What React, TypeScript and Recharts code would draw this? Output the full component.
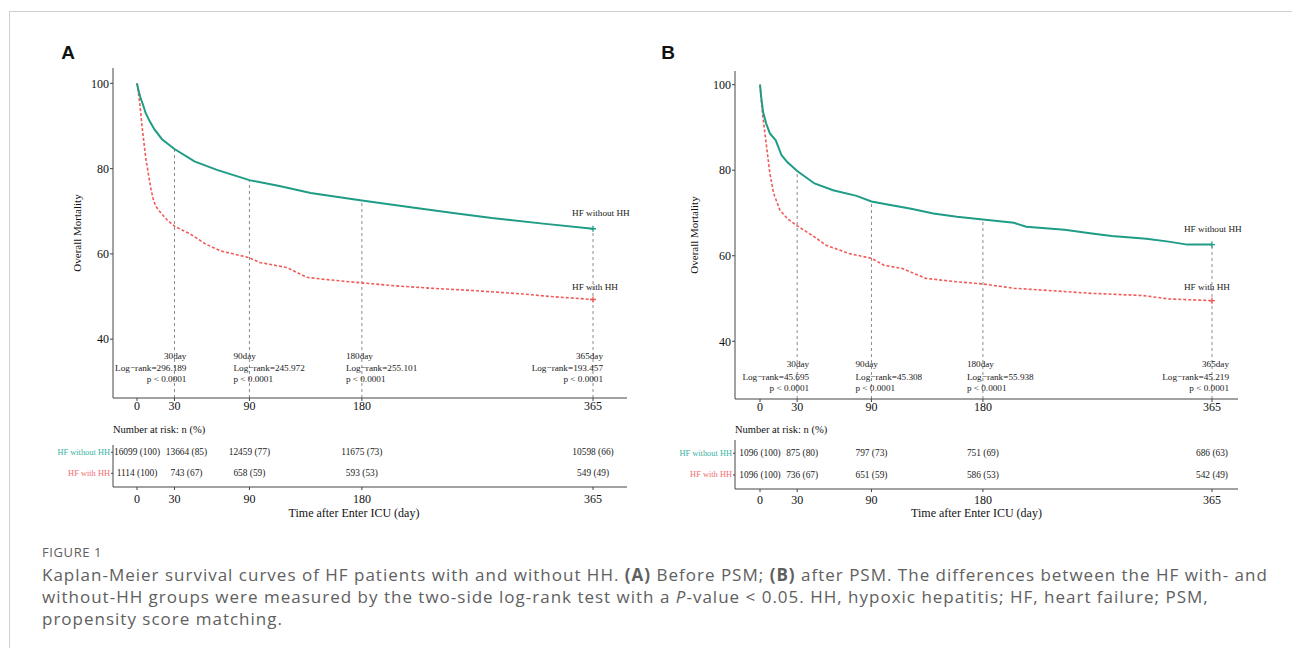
import React from "react"
import {
  LineChart,
  Line,
  XAxis,
  YAxis,
  ReferenceLine,
  ReferenceDot,
  ScatterChart,
  Scatter,
} from "recharts"

const SERIF = '"Liberation Serif", "Times New Roman", serif'
const TEAL = "#1f9c86"
const RED = "#f25a58"
const TEAL_SOFT = "#38b3a3"
const RED_SOFT = "#f26e6e"
const AXIS = "#444"

// Panel A: before PSM (survival %)
const aWithoutDays = [0, 1, 2.5, 5, 7, 10, 14, 20, 30, 46, 64, 90, 114, 139, 180, 222, 253, 284, 325, 365]
const aWithoutSurv = [100, 98.6, 96.9, 94.8, 93.0, 91.2, 89.2, 86.9, 84.6, 81.7, 79.7, 77.3, 75.9, 74.3, 72.5, 70.8, 69.6, 68.4, 67.1, 65.9]
const aWithDays = [0, 1, 2.5, 4, 5.6, 7, 9, 11, 13, 15, 18, 24, 30, 43, 55, 67, 90, 98, 120, 136, 151, 180, 207, 238, 269, 309, 331, 365]
const aWithSurv = [100, 98, 94.6, 90, 86, 82.5, 79, 75.5, 72.8, 71.2, 70, 68, 66.5, 64.6, 62.3, 60.7, 59.1, 58, 56.8, 54.5, 54, 53.2, 52.5, 51.9, 51.4, 50.6, 50, 49.3]

// Panel B: after PSM
const bWithoutDays = [0, 1, 2.5, 5, 8, 12.7, 17.4, 22, 30, 44, 59, 78, 90, 103, 122, 140, 159, 180, 205, 215, 246, 268, 284, 312, 330, 345, 365]
const bWithoutSurv = [100, 97, 93.6, 90.9, 88.6, 87, 83.5, 81.9, 79.8, 76.9, 75.3, 74, 72.7, 72, 71, 69.9, 69.1, 68.5, 67.7, 66.8, 66.1, 65.2, 64.6, 64, 63.3, 62.6, 62.6]
const bWithDays = [0, 2, 5, 8, 11, 16, 22, 30, 44, 53, 72, 90, 100, 115, 134, 159, 180, 205, 237, 268, 309, 330, 365]
const bWithSurv = [100, 93.2, 86.2, 79.2, 74.6, 70.7, 68.7, 67, 64.4, 62.5, 60.5, 59.4, 57.8, 57, 54.7, 53.9, 53.4, 52.4, 51.8, 51.2, 50.7, 49.9, 49.5]

const markDays = [30, 90, 180, 365]
const aLogRank = ["296.189", "245.972", "255.101", "193.457"]
const bLogRank = ["45.695", "45.308", "55.938", "45.219"]
const pText = "p < 0.0001"

const xTicks = [0, 30, 90, 180, 365]
const yTicks = [40, 60, 80, 100]
const groupNames = ["HF without HH", "HF with HH"]

// number at risk tables
const riskDays = [0, 30, 90, 180, 365]
const aRiskWithoutN = [16099, 13664, 12459, 11675, 10598]
const aRiskWithoutPct = [100, 85, 77, 73, 66]
const aRiskWithN = [1114, 743, 658, 593, 549]
const aRiskWithPct = [100, 67, 59, 53, 49]
const bRiskWithoutN = [1096, 875, 797, 751, 686]
const bRiskWithoutPct = [100, 80, 73, 69, 63]
const bRiskWithN = [1096, 736, 651, 586, 542]
const bRiskWithPct = [100, 67, 59, 53, 49]

const captionLines = [
  "Kaplan-Meier survival curves of HF patients with and without HH. ",
  "without-HH groups were measured by the two-side log-rank test with a ",
  "propensity score matching.",
]

type Layout = {
  tag: string
  tagX: number
  boxLeft: number
  boxWidth: number
  plotLeft: number
  plotRight: number
  plotTop: number
  plotBottom: number
  xDomain: [number, number]
  yDomain: [number, number]
  yLabelX: number
  annoDx: number[]
  annoAnchor: ("start" | "end")[]
  annoDy: number[]
  endDx: number
  endDy: number[]
  tableTop: number
  tableBottom: number
  tableDomain: [number, number]
  tableTickMargin: number
  titleShift: number
  riskNudge: number
}

const layoutA: Layout = {
  tag: "A",
  tagX: 68,
  boxLeft: 0,
  boxWidth: 660,
  plotLeft: 113,
  plotRight: 627,
  plotTop: 68,
  plotBottom: 398,
  xDomain: [-19.2, 392.2],
  yDomain: [26.2, 103.6],
  yLabelX: 77,
  annoDx: [12, -16, -16, 10],
  annoAnchor: ["end", "start", "start", "end"],
  annoDy: [-42, -30, -19],
  endDx: -21,
  endDy: [-16, -13],
  tableTop: 445,
  tableBottom: 487,
  tableDomain: [0.348, 2.35],
  tableTickMargin: 4,
  titleShift: -16,
  riskNudge: 12,
}

const layoutB: Layout = {
  tag: "B",
  tagX: 668,
  boxLeft: 640,
  boxWidth: 652,
  plotLeft: 735,
  plotRight: 1238,
  plotTop: 71,
  plotBottom: 399,
  xDomain: [-20.2, 386],
  yDomain: [26.5, 103.2],
  yLabelX: 694,
  annoDx: [12, -16, -16, 17],
  annoAnchor: ["end", "start", "start", "end"],
  annoDy: [-35, -22.5, -11],
  endDx: -28,
  endDy: [-16, -14],
  tableTop: 440,
  tableBottom: 489,
  tableDomain: [0.355, 2.61],
  tableTickMargin: 3,
  titleShift: -10,
  riskNudge: 5,
}

const toPoints = (days: number[], surv: number[]) => days.map((d, i) => ({ day: d, surv: surv[i] }))
const valueAt = (days: number[], surv: number[], d: number) => surv[days.indexOf(d)]

function endMarker(color: string, name: string, count: number, dx: number, dy: number) {
  return (props: any) => {
    const { cx, cy, index } = props
    if (index !== count - 1) return <g key={`e${index}`} />
    return (
      <g key={`e${index}`}>
        <path d={`M${cx - 3},${cy}h6M${cx},${cy - 3}v6`} stroke={color} strokeWidth={1.3} />
        <text x={cx + dx} y={cy + dy} fontSize={9.2} fontFamily={SERIF} fill="#222" dominantBaseline="central">
          {name}
        </text>
      </g>
    )
  }
}

function RowTick(props: any) {
  const { x, y, payload } = props
  const top = payload.value === 2
  return (
    <text x={x} y={y} textAnchor="end" dominantBaseline="central" fontSize={8.4} fontFamily={SERIF} fill={top ? TEAL_SOFT : RED_SOFT}>
      {top ? groupNames[0] : groupNames[1]}
    </text>
  )
}

type PanelProps = {
  L: Layout
  withoutDays: number[]
  withoutSurv: number[]
  withDays: number[]
  withSurv: number[]
  logRank: string[]
  riskWithoutN: number[]
  riskWithoutPct: number[]
  riskWithN: number[]
  riskWithPct: number[]
}

function Panel({ L, withoutDays, withoutSurv, withDays, withSurv, logRank, riskWithoutN, riskWithoutPct, riskWithN, riskWithPct }: PanelProps) {
  const without = toPoints(withoutDays, withoutSurv)
  const withHH = toPoints(withDays, withSurv)
  const rowsWithout = riskDays.map((d, i) => ({ day: d, row: 2, label: `${riskWithoutN[i]} (${riskWithoutPct[i]})` }))
  const rowsWith = riskDays.map((d, i) => ({ day: d, row: 1, label: `${riskWithN[i]} (${riskWithPct[i]})` }))
  const rightMargin = L.boxLeft + L.boxWidth - L.plotRight

  const riskText = (p: any) => (
    <text
      x={p.cx + (p.payload.day === 30 ? L.riskNudge : 0)}
      y={p.cy}
      textAnchor="middle"
      dominantBaseline="central"
      fontSize={9.4}
      fontFamily={SERIF}
      fill="#222"
    >
      {p.payload.label}
    </text>
  )

  const tickStyle = { fontSize: 12, fill: "#111", fontFamily: SERIF }

  return (
    <>
      <div
        style={{
          position: "absolute",
          left: L.tagX - 10,
          top: 42,
          width: 20,
          textAlign: "center",
          font: 'bold 19px "Liberation Sans", Arial, sans-serif',
          color: "#111",
        }}
      >
        {L.tag}
      </div>
      <div style={{ position: "absolute", left: L.boxLeft, top: 0 }}>
        <LineChart
          width={L.boxWidth}
          height={420}
          margin={{ top: L.plotTop, right: rightMargin, bottom: 420 - L.plotBottom - 20, left: 0 }}
        >
          <XAxis
            type="number"
            dataKey="day"
            domain={L.xDomain}
            ticks={xTicks}
            height={20}
            tickSize={3}
            tickMargin={0}
            axisLine={{ stroke: AXIS }}
            tickLine={{ stroke: AXIS }}
            tick={tickStyle}
          />
          <YAxis
            type="number"
            domain={L.yDomain}
            ticks={yTicks}
            width={L.plotLeft - L.boxLeft}
            tickSize={3}
            tickMargin={1}
            axisLine={{ stroke: AXIS }}
            tickLine={{ stroke: AXIS }}
            tick={tickStyle}
            label={{
              value: "Overall Mortality",
              angle: -90,
              position: "insideLeft",
              offset: L.yLabelX - L.boxLeft,
              style: { textAnchor: "middle", fontSize: 11, fontFamily: SERIF, fill: "#111" },
            }}
          />
          {markDays.map((d) => (
            <ReferenceLine
              key={`v${d}`}
              segment={[
                { x: d, y: L.yDomain[0] },
                { x: d, y: valueAt(withoutDays, withoutSurv, d) },
              ]}
              stroke="#8c8c8c"
              strokeDasharray="3 3"
            />
          ))}
          {markDays.map((d, i) => (
            <ReferenceDot
              key={`t${d}`}
              x={d}
              y={L.yDomain[0]}
              r={0}
              ifOverflow="visible"
              shape={(p: any) => (
                <g>
                  {[`${d}day`, `Log\u2212rank=${logRank[i]}`, pText].map((t, k) => (
                    <text
                      key={k}
                      x={p.cx + L.annoDx[i]}
                      y={p.cy + L.annoDy[k]}
                      textAnchor={L.annoAnchor[i]}
                      dominantBaseline="central"
                      fontSize={9.2}
                      fontFamily={SERIF}
                      fill="#222"
                    >
                      {t}
                    </text>
                  ))}
                </g>
              )}
            />
          ))}
          <Line
            data={withHH}
            dataKey="surv"
            type="linear"
            stroke={RED}
            strokeWidth={1.6}
            strokeDasharray="3 2"
            dot={endMarker(RED, groupNames[1], withHH.length, L.endDx, L.endDy[1])}
            activeDot={false}
            isAnimationActive={false}
          />
          <Line
            data={without}
            dataKey="surv"
            type="linear"
            stroke={TEAL}
            strokeWidth={2}
            dot={endMarker(TEAL, groupNames[0], without.length, L.endDx, L.endDy[0])}
            activeDot={false}
            isAnimationActive={false}
          />
        </LineChart>
      </div>

      <div
        style={{
          position: "absolute",
          left: L.plotLeft,
          top: 424,
          fontFamily: SERIF,
          fontSize: 10.5,
          color: "#111",
          whiteSpace: "nowrap",
        }}
      >
        Number at risk: n (%)
      </div>
      <div style={{ position: "absolute", left: L.boxLeft, top: 420 }}>
        <ScatterChart
          width={L.boxWidth}
          height={110}
          margin={{ top: L.tableTop - 420, right: rightMargin, bottom: 0, left: 0 }}
        >
          <XAxis
            type="number"
            dataKey="day"
            domain={L.xDomain}
            ticks={xTicks}
            height={530 - L.tableBottom}
            tickSize={3}
            tickMargin={L.tableTickMargin}
            axisLine={{ stroke: AXIS }}
            tickLine={{ stroke: AXIS }}
            tick={tickStyle}
            label={{
              position: "insideBottom",
              content: (p: any) => {
                const vb = p.viewBox
                return (
                  <text
                    x={vb.x + vb.width / 2 + L.titleShift}
                    y={vb.y + vb.height - 17}
                    textAnchor="middle"
                    dominantBaseline="central"
                    fontSize={12}
                    fontFamily={SERIF}
                    fill="#111"
                  >
                    Time after Enter ICU (day)
                  </text>
                )
              },
            }}
          />
          <YAxis
            type="number"
            dataKey="row"
            domain={L.tableDomain}
            ticks={[1, 2]}
            interval={0}
            width={L.plotLeft - L.boxLeft}
            tickSize={2}
            tickMargin={1}
            axisLine={{ stroke: AXIS }}
            tickLine={{ stroke: AXIS }}
            tick={<RowTick />}
          />
          <Scatter data={rowsWithout} shape={riskText} isAnimationActive={false} />
          <Scatter data={rowsWith} shape={riskText} isAnimationActive={false} />
        </ScatterChart>
      </div>
    </>
  )
}

export default function App() {
  const capStyle: React.CSSProperties = {
    position: "absolute",
    left: 42,
    fontFamily: '"Open Sans", "Noto Sans", sans-serif',
    fontSize: 17,
    letterSpacing: 1.0,
    color: "#606060",
    whiteSpace: "nowrap",
    lineHeight: "22px",
  }
  return (
    <div style={{ position: "absolute", left: 0, top: 0, width: 1292, height: 655, background: "#fff", overflow: "hidden" }}>
      <div
        style={{
          position: "absolute",
          left: 9,
          top: 11,
          width: 1283,
          height: 636,
          borderTop: "1.5px solid #cfcfcf",
          borderLeft: "1px solid #cfcfcf",
        }}
      />
      <Panel
        L={layoutA}
        withoutDays={aWithoutDays}
        withoutSurv={aWithoutSurv}
        withDays={aWithDays}
        withSurv={aWithSurv}
        logRank={aLogRank}
        riskWithoutN={aRiskWithoutN}
        riskWithoutPct={aRiskWithoutPct}
        riskWithN={aRiskWithN}
        riskWithPct={aRiskWithPct}
      />
      <Panel
        L={layoutB}
        withoutDays={bWithoutDays}
        withoutSurv={bWithoutSurv}
        withDays={bWithDays}
        withSurv={bWithSurv}
        logRank={bLogRank}
        riskWithoutN={bRiskWithoutN}
        riskWithoutPct={bRiskWithoutPct}
        riskWithN={bRiskWithN}
        riskWithPct={bRiskWithPct}
      />
      <div style={{ ...capStyle, top: 541, fontSize: 13, letterSpacing: 0.6 }}>FIGURE 1</div>
      <div style={{ ...capStyle, top: 564 }}>
        {captionLines[0]}
        <b>(A)</b> Before PSM; <b>(B)</b> after PSM. The differences between the HF with- and
      </div>
      <div style={{ ...capStyle, top: 586 }}>
        {captionLines[1]}
        <i>P</i>-value &lt; 0.05. HH, hypoxic hepatitis; HF, heart failure; PSM,
      </div>
      <div style={{ ...capStyle, top: 608 }}>{captionLines[2]}</div>
    </div>
  )
}
